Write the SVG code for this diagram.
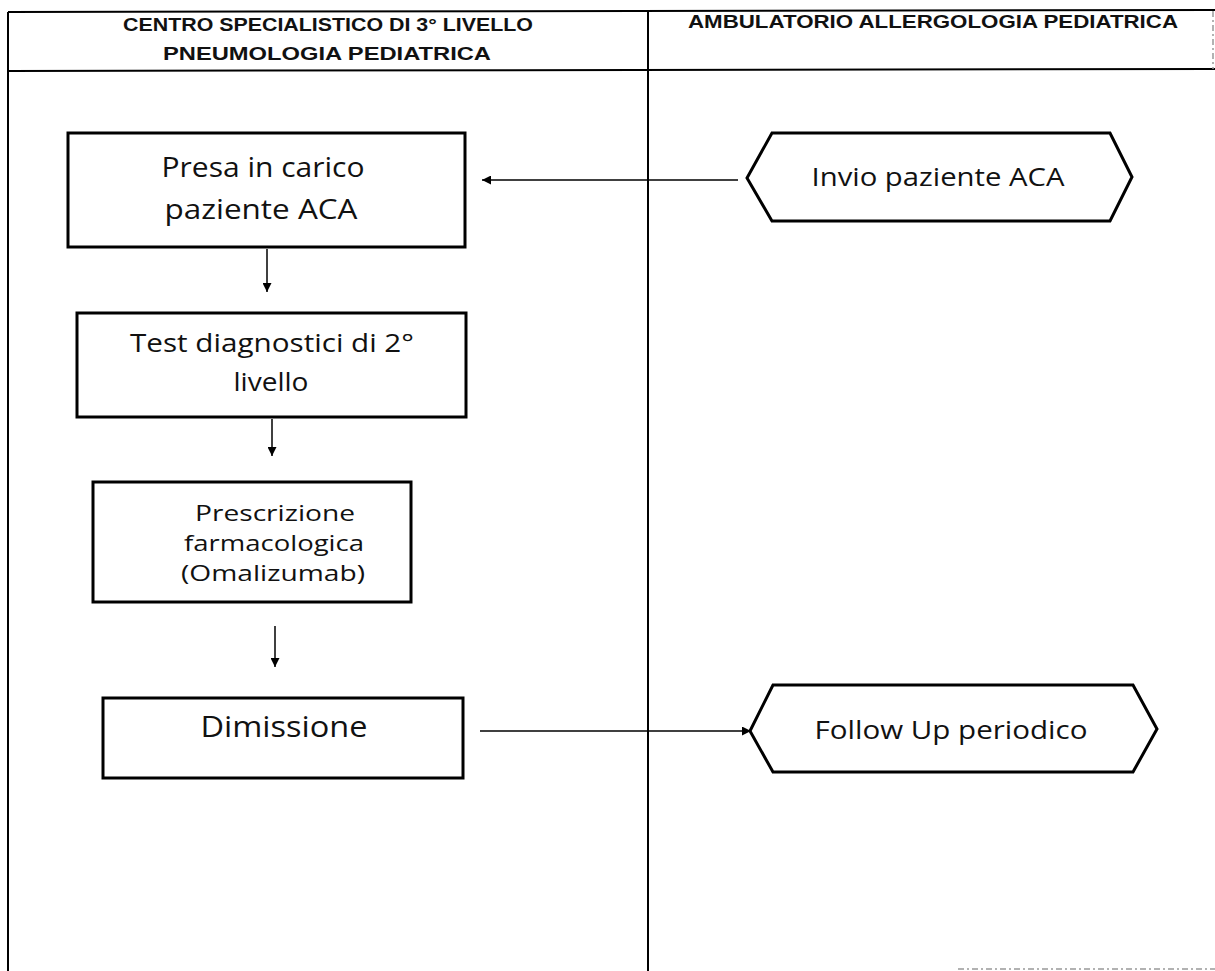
<svg xmlns="http://www.w3.org/2000/svg" width="1215" height="971" viewBox="0 0 1215 971">
  <style>
    .frame { fill: none; stroke: #000; stroke-width: 2; }
    .faint { fill: none; stroke: #999; stroke-width: 1.5; stroke-dasharray: 6 3 2 3; }
    .box { fill: #fff; stroke: #000; stroke-width: 3; }
    .conn { fill: none; stroke: #000; stroke-width: 1.5; }
    .head { font-family: "Liberation Sans", "Open Sans", sans-serif; font-size: 18px; font-weight: bold; fill: #111; text-anchor: middle; }
    .lbl { font-family: "Open Sans", "Liberation Sans", sans-serif; font-size: 26px; fill: #111; text-anchor: middle; }
    .lg { font-size: 28px; }
    .md { font-size: 25px; }
    .sm { font-size: 21px; }
  </style>
  <defs>
    <marker id="arrow" viewBox="0 0 10 10" refX="10" refY="5" markerWidth="9" markerHeight="9" markerUnits="userSpaceOnUse" orient="auto">
      <path d="M0,0 L10,5 L0,10 Z" fill="#000"/>
    </marker>
  </defs>
  <rect width="1215" height="971" fill="#fff"/>

  <!-- swimlane frame and lane titles -->
  <g id="lanes">
    <line class="frame" x1="8" y1="12" x2="1215" y2="10"/>
    <line class="frame" x1="8" y1="71" x2="1215" y2="69"/>
    <line class="frame" x1="8" y1="12" x2="8" y2="971"/>
    <line class="frame" x1="648" y1="11" x2="648" y2="971"/>
    <line class="faint" x1="1213" y1="11" x2="1213" y2="69"/>
    <line class="faint" x1="958" y1="969" x2="1215" y2="969"/>
    <text class="head" x="328" y="31" textLength="410" lengthAdjust="spacingAndGlyphs">CENTRO SPECIALISTICO DI  3° LIVELLO</text>
    <text class="head" x="327" y="60" textLength="328" lengthAdjust="spacingAndGlyphs">PNEUMOLOGIA PEDIATRICA</text>
    <text class="head" x="933" y="28" textLength="490" lengthAdjust="spacingAndGlyphs">AMBULATORIO  ALLERGOLOGIA PEDIATRICA</text>
  </g>

  <!-- connectors -->
  <g id="connectors">
    <line class="conn" x1="738" y1="180" x2="482" y2="180" marker-end="url(#arrow)"/>
    <line class="conn" x1="267" y1="249" x2="267" y2="292" marker-end="url(#arrow)"/>
    <line class="conn" x1="272" y1="419" x2="272" y2="456" marker-end="url(#arrow)"/>
    <line class="conn" x1="275" y1="626" x2="275" y2="667" marker-end="url(#arrow)"/>
    <line class="conn" x1="480" y1="731" x2="751" y2="731" marker-end="url(#arrow)"/>
  </g>

  <g id="presa-in-carico">
    <rect class="box" x="68" y="133" width="397" height="114"/>
    <text class="lbl lg" x="263" y="177" textLength="203" lengthAdjust="spacingAndGlyphs">Presa in carico</text>
    <text class="lbl lg" x="261" y="219" textLength="193" lengthAdjust="spacingAndGlyphs">paziente ACA</text>
  </g>

  <g id="invio-paziente">
    <polygon class="box" points="747,178 772,133 1110,133 1132,177 1110,221 772,221"/>
    <text class="lbl md" x="938" y="186" textLength="253" lengthAdjust="spacingAndGlyphs">Invio paziente ACA</text>
  </g>

  <g id="test-diagnostici">
    <rect class="box" x="77" y="313" width="389" height="104"/>
    <text class="lbl" x="272" y="352" textLength="284" lengthAdjust="spacingAndGlyphs">Test diagnostici di 2°</text>
    <text class="lbl" x="271" y="391" textLength="75" lengthAdjust="spacingAndGlyphs">livello</text>
  </g>

  <g id="prescrizione">
    <rect class="box" x="93" y="482" width="318" height="120"/>
    <text class="lbl sm" x="275" y="521" textLength="160" lengthAdjust="spacingAndGlyphs">Prescrizione</text>
    <text class="lbl sm" x="274" y="551" textLength="180" lengthAdjust="spacingAndGlyphs">farmacologica</text>
    <text class="lbl sm" x="273" y="581" textLength="184" lengthAdjust="spacingAndGlyphs">(Omalizumab)</text>
  </g>

  <g id="dimissione">
    <rect class="box" x="103" y="698" width="360" height="80"/>
    <text class="lbl" x="284" y="737" style="font-size:29px" textLength="167" lengthAdjust="spacingAndGlyphs">Dimissione</text>
  </g>

  <g id="follow-up">
    <polygon class="box" points="750,731 773,685 1133,685 1157,729 1133,772 773,772"/>
    <text class="lbl md" x="951" y="739" textLength="273" lengthAdjust="spacingAndGlyphs">Follow Up periodico</text>
  </g>
</svg>
